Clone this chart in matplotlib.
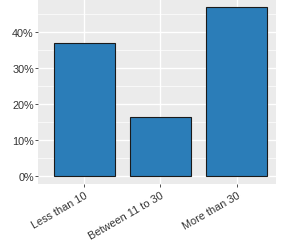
import matplotlib
matplotlib.use("Agg")
import matplotlib.pyplot as plt
from matplotlib.ticker import MultipleLocator, FuncFormatter

# data
categories = ["Less than 10", "Between 11 to 30", "More than 30"]
shares = [37.0, 16.2, 46.9]

plt.rcParams["font.family"] = ["Liberation Sans", "DejaVu Sans"]

fig = plt.figure(figsize=(2.83, 2.51), dpi=100)
ax = fig.add_axes([38.3 / 283, 1 - 185 / 251, (276 - 38.3) / 283, 185.7 / 251])

ax.set_facecolor("#EBEBEB")
for s in ax.spines.values():
    s.set_visible(False)

x = list(range(1, len(categories) + 1))
ax.bar(x, shares, width=0.8, color="#2B7DB8", edgecolor="#1a1a1a", linewidth=0.8, zorder=3)

ax.set_xlim(0.4, 3.515)
ax.set_ylim(-2.35, 49.35)

ax.yaxis.set_major_locator(MultipleLocator(10))
ax.yaxis.set_minor_locator(MultipleLocator(5))
ax.yaxis.set_major_formatter(FuncFormatter(lambda v, p: f"{v:.0f}%"))
ax.set_xticks(x)
ax.set_xticklabels(categories, rotation=30, ha="right", va="top", rotation_mode="anchor")

ax.grid(which="major", color="white", linewidth=1.0, zorder=0)
ax.grid(which="minor", axis="y", color="white", linewidth=0.5, zorder=0)
ax.set_axisbelow(True)

ax.tick_params(which="major", length=2, width=0.6, color="#333333",
               labelsize=7.8, labelcolor="#333333", pad=1.2)
ax.tick_params(which="minor", length=0)
ax.tick_params(axis="x", pad=2)

fig.savefig("out.png", dpi=100)
